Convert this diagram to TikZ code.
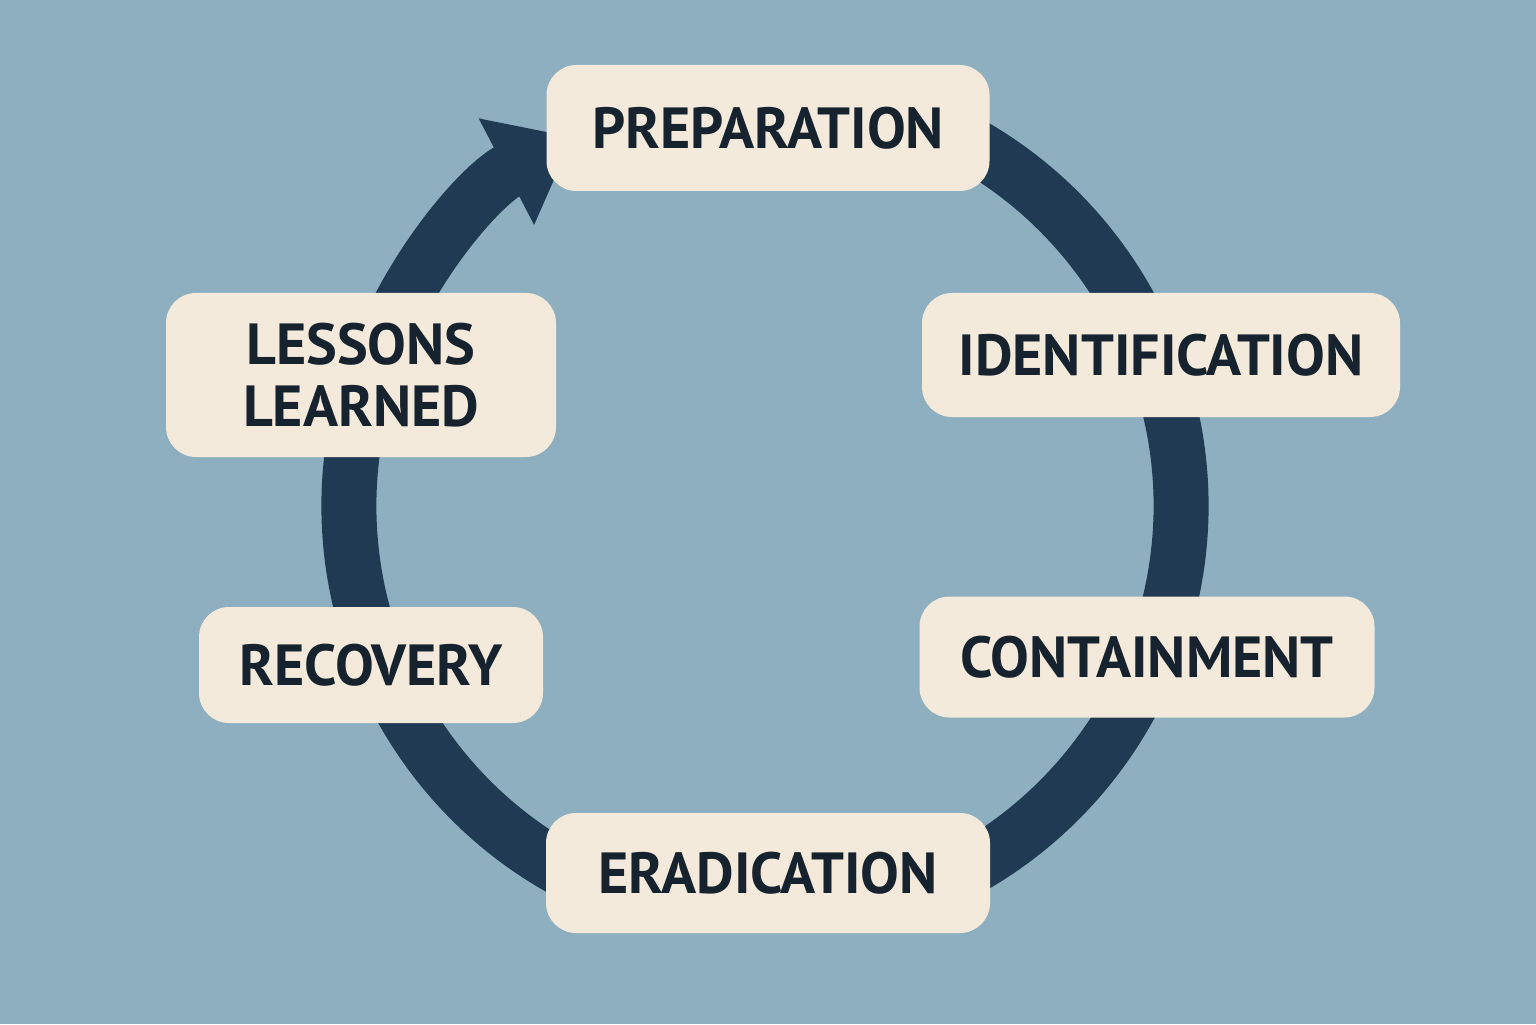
\documentclass[tikz,border=0pt]{standalone}
\usepackage{fontspec}
\setmainfont{PT Sans}
\usetikzlibrary{arrows.meta}
\definecolor{bgblue}{HTML}{8EAFC0}
\definecolor{ringblue}{HTML}{1F3A52}
\definecolor{boxcream}{HTML}{F3EADB}
\definecolor{textnavy}{HTML}{16222E}
\tikzset{
  phase/.style={fill=boxcream,rounded corners=0.3cm,text=textnavy,inner sep=0pt,
    font=\fontsize{16.5}{17.5}\selectfont\bfseries,align=center},
  ring/.style={draw=ringblue,line width=0.55cm}
}

\begin{document}
\begin{tikzpicture}
  \fill[bgblue](0,0) rectangle (15.36,10.24);
  \useasboundingbox (0,0) rectangle (15.36,10.24);
  % the cycle, both ends of each arc sit under a box
  \coordinate (c) at (7.65,5.18);
  \draw [ring](c) ++(75:4.16) arc (75:-70:4.16);
  \draw [ring,-{Triangle[length=0.75cm,width=1.15cm]}](c) ++(250:4.16) arc (250:117.5:4.16);
  % the six phases
  \node[phase,minimum width=4.43cm,minimum height=1.26cm] (prep) at (7.68,8.96){PREPARATION};
  \node[phase,minimum width=4.78cm,minimum height=1.24cm] (ident) at (11.61,6.69){IDENTIFICATION};
  \node[phase,minimum width=4.55cm,minimum height=1.21cm] (contain) at (11.47,3.67){CONTAINMENT};
  \node[phase,minimum width=4.44cm,minimum height=1.20cm] (erad) at (7.68,1.51){ERADICATION};
  \node[phase,minimum width=3.44cm,minimum height=1.16cm] (recov) at (3.71,3.59){RECOVERY};
  \node[phase,minimum width=3.90cm,minimum height=1.64cm] (lessons) at (3.61,6.49){LESSONS\\LEARNED};
\end{tikzpicture}
\end{document}
